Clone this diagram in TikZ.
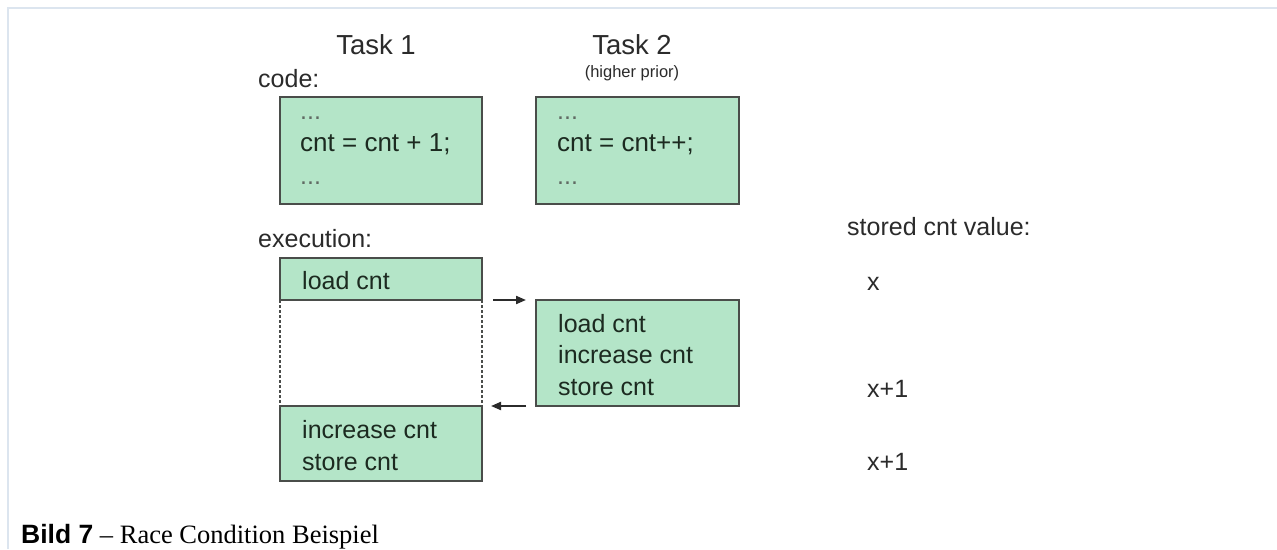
\documentclass[tikz,border=0pt]{standalone}
\usepackage{fontspec}
\setmainfont{Liberation Serif}
\newfontfamily\arialfont{Liberation Sans}
\usetikzlibrary{arrows.meta}

\definecolor{mint}{HTML}{B4E5C8}
\definecolor{boxline}{HTML}{4A4D4A}
\definecolor{labeltext}{HTML}{2B2B2B}
\definecolor{boxtext}{HTML}{1C2A20}
\definecolor{framecol}{HTML}{DCE5EF}

\tikzset{
  stepbox/.style={draw=boxline, fill=mint, line width=2.2pt, inner sep=0pt, outer sep=0pt, anchor=north west},
  lbl/.style={anchor=base west, inner sep=0pt, text=labeltext, font=\arialfont\fontsize{25}{30}\selectfont},
  title/.style={anchor=base, inner sep=0pt, text=labeltext, font=\arialfont\fontsize{27.5}{32}\selectfont},
  small/.style={anchor=base, inner sep=0pt, text=labeltext, font=\arialfont\fontsize{16.5}{20}\selectfont},
  codetxt/.style={anchor=base west, inner sep=0pt, text=boxtext, font=\arialfont\fontsize{26}{31}\selectfont},
  dots/.style={anchor=base west, inner sep=0pt, text=boxtext!70, font=\arialfont\fontsize{25}{30}\selectfont},
  steptxt/.style={anchor=base west, inner sep=0pt, text=boxtext, font=\arialfont\fontsize{25}{30}\selectfont},
  gap/.style={draw=boxline, line width=1.5pt, dash pattern=on 3pt off 2pt},
  flow/.style={draw=labeltext, line width=2pt, -{Triangle[length=10pt,width=8pt]}}
}

\begin{document}
\begin{tikzpicture}[x=1pt,y=-1pt]
  \useasboundingbox (0,0) rectangle (1277,549);
  \fill[white] (0,0) rectangle (1277,549);

  % page frame
  \draw[framecol, line width=2pt] (7.5,549) -- (7.5,7.5) -- (1277,7.5);

  % headings
  \node[title] (t1) at (376,54) {Task 1};
  \node[title] (t2) at (632,54) {Task 2};
  \node[small] (prio) at (632,77) {(higher prior)};
  \node[lbl] (codelbl) at (258,87) {code:};

  % source code of both tasks
  \node[stepbox, minimum width=202pt, minimum height=107pt] (code1) at (280,97) {};
  \node[stepbox, minimum width=203pt, minimum height=107pt] (code2) at (536,97) {};
  \node[dots] (c1a) at (300,119) {...};
  \node[codetxt] (c1b) at (300,151) {cnt = cnt + 1;};
  \node[dots] (c1c) at (300,184) {...};
  \node[dots] (c2a) at (557,119) {...};
  \node[codetxt] (c2b) at (557,151) {cnt = cnt++;};
  \node[dots] (c2c) at (557,184) {...};

  % execution order
  \node[lbl] (execlbl) at (258,247) {execution:};
  \node[stepbox, minimum width=202pt, minimum height=42pt] (load1) at (280,258) {};
  \node[stepbox, minimum width=202pt, minimum height=75pt] (rest1) at (280,406) {};
  \node[stepbox, minimum width=203pt, minimum height=106pt] (exec2) at (536,300) {};

  % Task 1 is suspended in between
  \draw[gap] (load1.south west) -- (rest1.north west);
  \draw[gap] (load1.south east) -- (rest1.north east);

  \node[steptxt] (l1) at (302,289) {load cnt};
  \node[steptxt] (r1a) at (302,438) {increase cnt};
  \node[steptxt] (r1b) at (302,470) {store cnt};
  \node[steptxt] (e2a) at (558,332) {load cnt};
  \node[steptxt] (e2b) at (558,363) {increase cnt};
  \node[steptxt] (e2c) at (558,395) {store cnt};

  % context switches
  \draw[flow] ([xshift=11pt]load1.south east) -- ([xshift=-10pt]exec2.north west);
  \draw[flow] ([xshift=-10pt]exec2.south west) -- ([xshift=9pt]rest1.north east);

  % stored value column
  \node[lbl] (stored) at (847,235) {stored cnt value:};
  \node[lbl] (v1) at (867,290) {x};
  \node[lbl] (v2) at (867,397) {x+1};
  \node[lbl] (v3) at (867,470) {x+1};

  % caption
  \node[anchor=base west, inner sep=0pt, font=\fontsize{26.5}{31}\selectfont] (cap) at (21,543)
    {{\arialfont\bfseries Bild 7} -- Race Condition Beispiel};
\end{tikzpicture}
\end{document}
